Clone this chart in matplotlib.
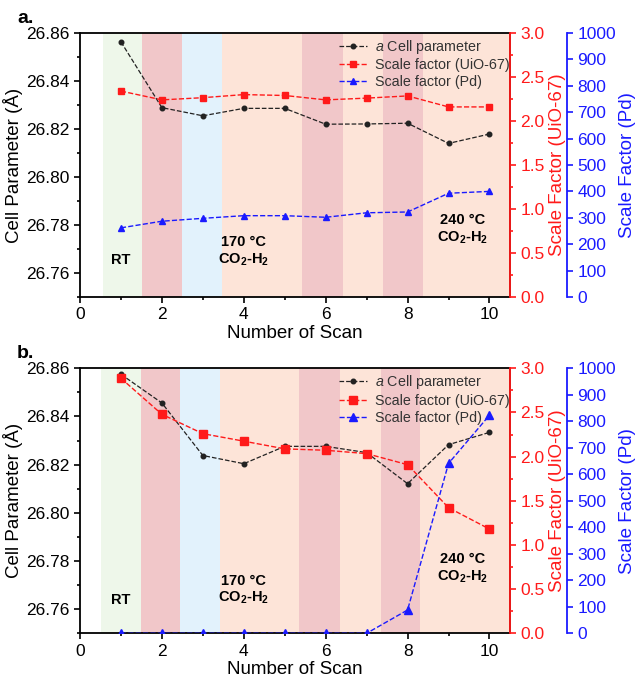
import matplotlib
matplotlib.use("Agg")
import matplotlib.pyplot as plt
from matplotlib.ticker import MultipleLocator

plt.rcParams['font.family'] = ['Liberation Sans', 'DejaVu Sans']
plt.rcParams['mathtext.fontset'] = 'custom'
plt.rcParams['mathtext.rm'] = 'Liberation Sans'
plt.rcParams['mathtext.it'] = 'Liberation Sans:italic'
plt.rcParams['mathtext.bf'] = 'Liberation Sans:bold'

scans = [1, 2, 3, 4, 5, 6, 7, 8, 9, 10]

# Panel a
cell_a = [26.8563, 26.8289, 26.8255, 26.8286, 26.8286, 26.8220, 26.8221, 26.8224, 26.8140, 26.8179]
uio_a = [2.34, 2.24, 2.265, 2.30, 2.29, 2.24, 2.26, 2.285, 2.16, 2.16]
pd_a = [262, 287, 298, 308, 308, 302, 319, 322, 393, 400]

# Panel b
cell_b = [26.8575, 26.8456, 26.8238, 26.8204, 26.8276, 26.8276, 26.8250, 26.8121, 26.8283, 26.8334]
uio_b = [2.887, 2.479, 2.26, 2.175, 2.088, 2.072, 2.034, 1.909, 1.422, 1.18]
pd_b = [0, 0, 0, 0, 0, 0, 0, 88, 641, 823]

GREEN_BG = '#eef7ea'
PINK_BG = '#f1c7c9'
BLUE_BG = '#e2f2fc'
PEACH_BG = '#fde4d8'

# background regions (start, end, colour)
regions_a = [(0.55, 1.52, GREEN_BG), (1.52, 2.5, PINK_BG), (2.5, 3.47, BLUE_BG),
             (3.47, 5.41, PEACH_BG), (5.41, 6.42, PINK_BG), (6.42, 7.41, PEACH_BG),
             (7.41, 8.37, PINK_BG), (8.37, 10.5, PEACH_BG)]
regions_b = [(0.51, 1.49, GREEN_BG), (1.49, 2.45, PINK_BG), (2.45, 3.42, BLUE_BG),
             (3.42, 5.34, PEACH_BG), (5.34, 6.36, PINK_BG), (6.36, 7.36, PEACH_BG),
             (7.36, 8.31, PINK_BG), (8.31, 10.5, PEACH_BG)]

RED = '#ff1a1a'
BLUE = '#1a1aff'

fig = plt.figure(figsize=(6.36, 6.79), dpi=100)


def panel(rect, cell, uio, pd, regions, letter, big, ypos):
    ax = fig.add_axes(rect)
    for s, e, c in regions:
        ax.axvspan(s, e, color=c, lw=0, zorder=0)
    ax.set_xlim(0, 10.5)
    ax.set_ylim(26.75, 26.86)
    ax.xaxis.set_major_locator(MultipleLocator(2))
    ax.xaxis.set_minor_locator(MultipleLocator(1))
    ax.yaxis.set_major_locator(MultipleLocator(0.02))
    ax.yaxis.set_minor_locator(MultipleLocator(0.01))
    ax.yaxis.set_major_formatter(matplotlib.ticker.FormatStrFormatter('%.2f'))
    ax.tick_params(which='both', direction='out', labelsize=12.5, width=1.2)
    ax.tick_params(which='major', length=4)
    ax.tick_params(which='minor', length=2.5)
    ax.tick_params(axis='x', top=False)
    for sp in ax.spines.values():
        sp.set_linewidth(1.3)
    ax.set_ylabel('Cell Parameter (Å)', fontsize=13.5, labelpad=2)
    ax.set_xlabel('Number of Scan', fontsize=13.5, labelpad=2)
    l1, = ax.plot(scans, cell, '--', color='#222222', lw=0.9, marker='o',
                  ms=3.3, label=r'$\it{a}$ Cell parameter', zorder=3)

    ax2 = ax.twinx()
    ax2.set_ylim(0, 3.0)
    ax2.yaxis.set_major_locator(MultipleLocator(0.5))
    ax2.yaxis.set_minor_locator(MultipleLocator(0.25))
    ax2.yaxis.set_major_formatter(matplotlib.ticker.FormatStrFormatter('%.1f'))
    ax2.tick_params(which='both', direction='out', labelsize=12.5, colors=RED, width=1.2)
    ax2.tick_params(which='major', length=4)
    ax2.tick_params(which='minor', length=2.5)
    ax2.spines['right'].set_color(RED)
    ax2.spines['right'].set_linewidth(1.3)
    for k in ['left', 'top', 'bottom']:
        ax2.spines[k].set_visible(False)
    ax2.set_ylabel('Scale Factor (UiO-67)', fontsize=13.5, color=RED, labelpad=3)
    l2, = ax2.plot(scans, uio, '--', color=RED, lw=1.0, marker='s',
                   ms=5.5 if big else 4.6, label='Scale factor (UiO-67)', zorder=3)

    ax3 = ax.twinx()
    ax3.spines['right'].set_position(('outward', 41))
    ax3.set_ylim(0, 1000)
    ax3.yaxis.set_major_locator(MultipleLocator(100))
    ax3.tick_params(which='both', direction='out', labelsize=12.5, colors=BLUE, width=1.2, length=4)
    ax3.spines['right'].set_color(BLUE)
    ax3.spines['right'].set_linewidth(1.3)
    for k in ['left', 'top', 'bottom']:
        ax3.spines[k].set_visible(False)
    ax3.set_ylabel('Scale Factor (Pd)', fontsize=13.5, color=BLUE, labelpad=2)
    l3, = ax3.plot(scans, pd, '--', color=BLUE, lw=1.0, marker='^',
                   ms=6 if big else 5, label='Scale factor (Pd)', zorder=3)

    ax3.legend(handles=[l1, l2, l3], loc='upper right', frameon=False, fontsize=10.3,
               bbox_to_anchor=(1.02, 1.015), handlelength=1.9, handletextpad=0.6,
               labelspacing=0.2, borderaxespad=0.2, labelcolor='#333333')

    rt_y, mid_y, hot_y = ypos
    ax.text(1.0, rt_y, 'RT', ha='center', va='center', fontsize=10.5, fontweight='bold', zorder=4)
    ax.text(4.0, mid_y, '170 °C\nCO$_\\mathbf{2}$-H$_\\mathbf{2}$', ha='center', va='center',
            fontsize=10.5, fontweight='bold', linespacing=1.2, zorder=4)
    ax.text(9.34, hot_y, '240 °C\nCO$_\\mathbf{2}$-H$_\\mathbf{2}$', ha='center', va='center',
            fontsize=10.5, fontweight='bold', linespacing=1.2, zorder=4)
    fig.text(0.027, rect[1] + rect[3] + 0.022, letter, fontsize=14, fontweight='bold',
             ha='left', va='center')
    return ax


panel([0.1258, 0.5626, 0.676, 0.3888], cell_a, uio_a, pd_a, regions_a, 'a.', False,
      (26.7655, 26.769, 26.778))
panel([0.1258, 0.0673, 0.676, 0.3903], cell_b, uio_b, pd_b, regions_b, 'b.', True,
      (26.764, 26.768, 26.777))

fig.savefig('out.png', dpi=100)
